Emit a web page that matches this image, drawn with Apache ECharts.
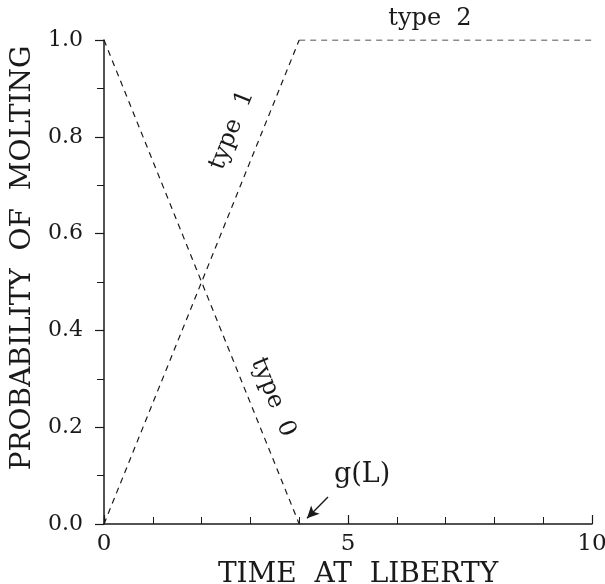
<!DOCTYPE html>
<html>
<head>
<meta charset="utf-8">
<script src="https://cdn.jsdelivr.net/npm/echarts@6/dist/echarts.min.js"></script>
<style>
  html, body { margin: 0; padding: 0; background: #fff; }
  #main { width: 605px; height: 584px; }
</style>
</head>
<body>
<div id="main"></div>
<script>
// 数据: 时间 vs 蜕皮概率
var type0 = [[0, 1], [4, 0]];
var type1 = [[0, 0], [4, 1]];
var type2 = [[4, 1], [10, 1]];
var xTicks = [0, 5, 10];
var yTicks = [0, 0.2, 0.4, 0.6, 0.8, 1.0];
// g(L) 箭头 (起点 -> 终点)
var arrowFrom = [4.59, 0.056];
var arrowTo = [4.16, 0.012];

var ink = '#1a1a1a';
var serif = 'DejaVu Serif';

var myChart = echarts.init(document.getElementById('main'));

function dashed(name, data) {
  return {
    name: name,
    type: 'line',
    data: data,
    symbol: 'none',
    silent: true,
    lineStyle: { color: ink, width: 1.2, type: [6, 5] }
  };
}

var option = {
  backgroundColor: '#fff',
  animation: false,
  grid: { left: 104, right: 13, top: 40, bottom: 60, outerBoundsMode: 'none' },
  xAxis: {
    type: 'value',
    min: 0, max: 10, interval: 5,
    name: 'TIME  AT  LIBERTY',
    nameLocation: 'middle',
    nameGap: 29,
    nameTextStyle: { fontFamily: serif, fontSize: 28, color: ink, padding: [0, 0, 0, 20] },
    axisLine: { lineStyle: { color: ink, width: 1.5 } },
    axisTick: { inside: true, length: 9, lineStyle: { color: ink, width: 1.2 } },
    minorTick: { show: true, splitNumber: 5, length: 7, lineStyle: { color: ink, width: 1 } },
    axisLabel: { fontFamily: serif, fontSize: 23, color: ink, margin: 9,
      formatter: function (v) { return xTicks.indexOf(v) >= 0 ? String(v) : ''; } },
    splitLine: { show: false }
  },
  yAxis: {
    type: 'value',
    min: 0, max: 1, interval: 0.2,
    name: 'PROBABILITY  OF  MOLTING',
    nameLocation: 'middle',
    nameGap: 67,
    nameTextStyle: { fontFamily: serif, fontSize: 28, color: ink, padding: [0, 0, 0, 48] },
    axisLine: { show: true, lineStyle: { color: ink, width: 1.5 } },
    axisTick: { show: true, length: 9, lineStyle: { color: ink, width: 1.2 } },
    minorTick: { show: true, splitNumber: 2, length: 7, lineStyle: { color: ink, width: 1 } },
    axisLabel: { fontFamily: serif, fontSize: 22, color: ink, margin: 21,
      formatter: function (v) { return v.toFixed(1); } },
    splitLine: { show: false }
  },
  series: [
    dashed('type 0', type0),
    dashed('type 1', type1),
    dashed('type 2', type2),
    {
      name: 'g(L)',
      type: 'line',
      data: [],
      markLine: {
        silent: true,
        symbol: ['none', 'arrow'],
        symbolSize: [9, 12],
        label: { show: false },
        lineStyle: { color: ink, width: 1.4, type: 'solid' },
        data: [[{ coord: arrowFrom }, { coord: arrowTo }]]
      }
    }
  ]
};
option && myChart.setOption(option);

// 注释文字
function px(p) { return myChart.convertToPixel({ gridIndex: 0 }, p); }
var angle = Math.atan2(px([0, 0])[1] - px([4, 1])[1], px([4, 1])[0] - px([0, 0])[0]);
var t1 = px([2.62, 0.814]);
var t0 = px([3.46, 0.262]);
var t2 = px([6.68, 1.043]);
var g = px([5.29, 0.101]);
var txt = { fontFamily: serif, fontSize: 24, fill: ink, align: 'center', verticalAlign: 'middle' };
myChart.setOption({
  graphic: [
    { type: 'text', x: t1[0], y: t1[1], rotation: angle, style: Object.assign({}, txt, { text: 'type  1' }) },
    { type: 'text', x: t0[0], y: t0[1], rotation: -angle, style: Object.assign({}, txt, { text: 'type  0' }) },
    { type: 'text', x: t2[0], y: t2[1], style: Object.assign({}, txt, { text: 'type  2' }) },
    { type: 'text', x: g[0], y: g[1], style: Object.assign({}, txt, { text: 'g(L)', fontSize: 27 }) }
  ]
});
</script>
</body>
</html>
